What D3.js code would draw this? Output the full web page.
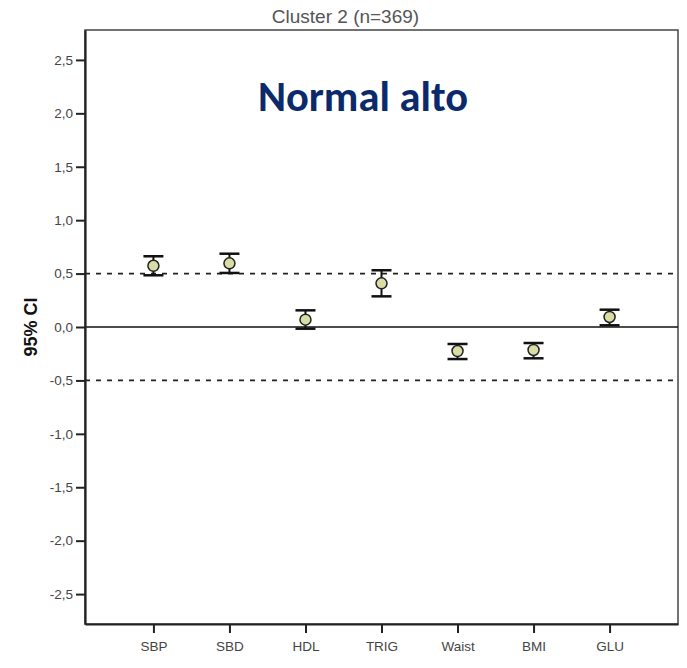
<!DOCTYPE html>
<html><head><meta charset="utf-8">
<script src="https://cdn.jsdelivr.net/npm/d3@7"></script>
<style>body{margin:0;background:#fff}</style>
</head><body>
<svg id="c" width="687" height="668"></svg>
<script>
const categories = ["SBP","SBD","HDL","TRIG","Waist","BMI","GLU"];
const means = [0.573, 0.596, 0.069, 0.409, -0.225, -0.215, 0.094];
const lower = [0.484, 0.506, -0.016, 0.287, -0.300, -0.293, 0.016];
const upper = [0.662, 0.686, 0.156, 0.531, -0.159, -0.150, 0.162];
const yTicks = [-2.5,-2.0,-1.5,-1.0,-0.5,0,0.5,1.0,1.5,2.0,2.5];
const refLines = [-0.5, 0.5];

const svg = d3.select("#c");
const L = 85, T = 30, R = 678, B = 624;
const FONT = "'Liberation Sans', Arial, sans-serif";
const x = d3.scalePoint().domain(categories).range([L, R]).padding(0.9);
const y = d3.scaleLinear().domain([-2.78, 2.78]).range([B, T]);
const fmt = v => d3.format(".1f")(v).replace(".", ",").replace("−","-");

// frame
svg.append("rect").attr("x", L).attr("y", T).attr("width", R-L).attr("height", B-T)
  .attr("fill","#fff").attr("stroke","#444").attr("stroke-width",1.5);

// ref lines
svg.selectAll("line.ref").data(refLines).join("line").attr("class","ref")
  .attr("x1", L).attr("x2", R).attr("y1", d=>y(d)).attr("y2", d=>y(d))
  .attr("stroke","#222").attr("stroke-width",1.6).attr("stroke-dasharray","5,6");
svg.append("line").attr("x1", L).attr("x2", R).attr("y1", y(0)).attr("y2", y(0))
  .attr("stroke","#111").attr("stroke-width",1.5);

// axes
const yAxis = d3.axisLeft(y).tickValues(yTicks).tickFormat(fmt).tickSize(9).tickSizeOuter(0).tickPadding(3);
const gy = svg.append("g").attr("transform", `translate(${L},0)`).call(yAxis);
gy.select(".domain").attr("stroke","#222").attr("stroke-width",2.2);
gy.selectAll(".tick line").attr("stroke","#222").attr("stroke-width",2);
gy.selectAll("text").attr("font-family",FONT).attr("font-size",13.5).attr("fill","#444");

const xAxis = d3.axisBottom(x).tickSize(9).tickSizeOuter(0).tickPadding(8);
const gx = svg.append("g").attr("transform", `translate(0,${B})`).call(xAxis);
gx.select(".domain").attr("stroke","#222").attr("stroke-width",2.2);
gx.selectAll(".tick line").attr("stroke","#222").attr("stroke-width",2);
gx.selectAll("text").attr("font-family",FONT).attr("font-size",13.5).attr("fill","#444");

// error bars
const data = categories.map((c,i)=>({c, m:means[i], lo:lower[i], hi:upper[i]}));
const g = svg.append("g");
const cap = 10;
g.selectAll("line.v").data(data).join("line").attr("class","v")
  .attr("x1", d=>x(d.c)).attr("x2", d=>x(d.c)).attr("y1", d=>y(d.lo)).attr("y2", d=>y(d.hi))
  .attr("stroke","#111").attr("stroke-width",2);
g.selectAll("line.t").data(data).join("line").attr("class","t")
  .attr("x1", d=>x(d.c)-cap).attr("x2", d=>x(d.c)+cap).attr("y1", d=>y(d.hi)).attr("y2", d=>y(d.hi))
  .attr("stroke","#111").attr("stroke-width",2.5);
g.selectAll("line.b").data(data).join("line").attr("class","b")
  .attr("x1", d=>x(d.c)-cap).attr("x2", d=>x(d.c)+cap).attr("y1", d=>y(d.lo)).attr("y2", d=>y(d.lo))
  .attr("stroke","#111").attr("stroke-width",2.5);
g.selectAll("circle").data(data).join("circle")
  .attr("cx", d=>x(d.c)).attr("cy", d=>y(d.m)).attr("r",5.5)
  .attr("fill","#d9dca4").attr("stroke","#222").attr("stroke-width",1.5);

// titles
svg.append("text").attr("x", 345.5).attr("y", 23).attr("text-anchor","middle")
  .attr("font-family",FONT).attr("font-size",19).attr("fill","#555")
  .text("Cluster 2 (n=369)");
svg.append("text").attr("x", 363).attr("y", 111).attr("text-anchor","middle")
  .attr("font-family","Carlito, Lato, 'Open Sans', sans-serif").attr("font-weight","bold")
  .attr("font-size",42.5).attr("fill","#0b2a6b").text("Normal alto");
svg.append("text").attr("transform", `translate(37,${y(0)}) rotate(-90)`).attr("text-anchor","middle")
  .attr("font-family",FONT).attr("font-weight","bold")
  .attr("font-size",18).attr("fill","#111").text("95% CI");
</script>
</body></html>
